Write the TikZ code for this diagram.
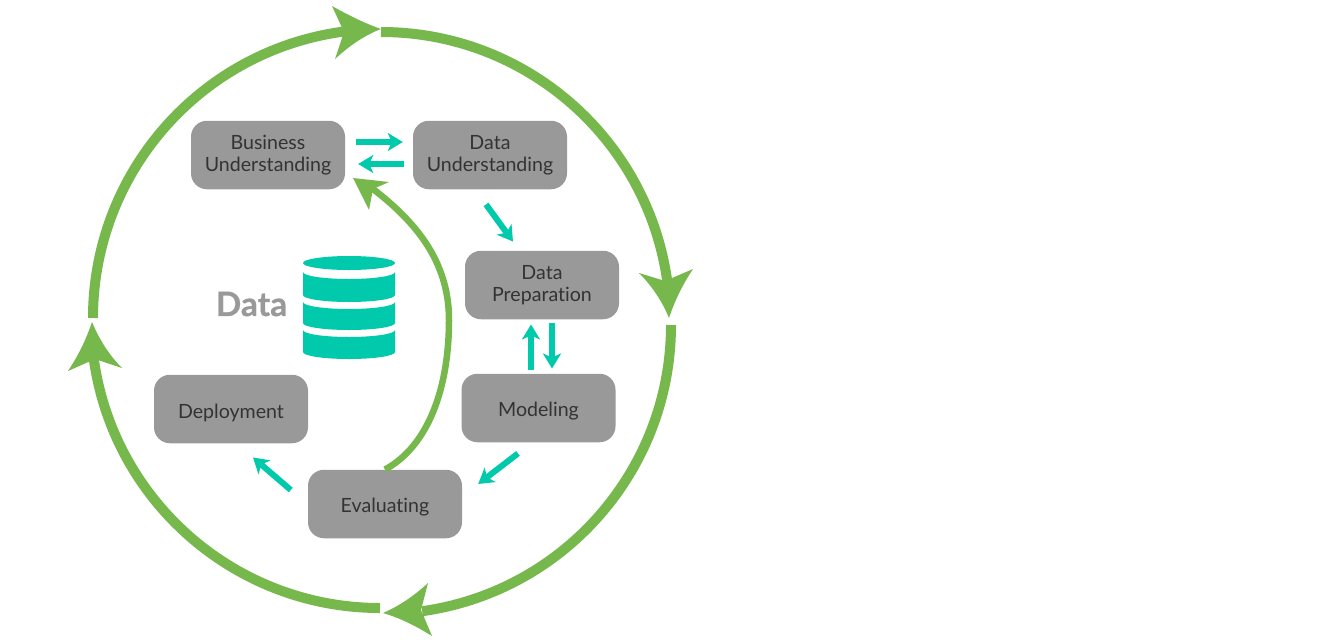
\documentclass[tikz,border=0pt]{standalone}
\usepackage{fontspec}
\setmainfont[Ligatures=NoCommon,Contextuals=NoAlternate]{Lato}
\newfontfamily\datafont[BoldFeatures={FakeBold=0.7}]{Lato}
\usetikzlibrary{arrows.meta,calc}
\definecolor{cgreen}{HTML}{76B84B}
\definecolor{cteal}{HTML}{00C9AC}
\definecolor{cbox}{HTML}{999999}
\definecolor{ctext}{HTML}{333333}
\tikzset{
  stage/.style={draw=none,fill=cbox,rounded corners=16pt,minimum width=154pt,minimum height=68.5pt,inner sep=0pt,
    align=center,text=ctext,font=\fontsize{19.6}{22}\selectfont},
  flow/.style={draw=cteal,line width=6pt,-{Stealth[length=15pt,width=18pt,inset=4pt]}},
  ring/.style={draw=cgreen,line width=10pt},
  ringhead/.style={fill=cgreen,draw=none},
  band/.style={fill=cteal,draw=none}
}
\begin{document}
\begin{tikzpicture}[x=1pt,y=-1pt]
\useasboundingbox[fill=white] (0,0) rectangle (1322,643);
% stages
\node[stage] (biz) at (268,155) {Business\\Understanding};
\node[stage] (du) at (490,155) {Data\\Understanding};
\node[stage] (dp) at (542,285) {Data\\Preparation};
\node[stage] (mod) at (538.5,408) {\rule{0pt}{20pt}Modeling};
\node[stage] (ev) at (385,504) {\rule{0pt}{20pt}Evaluating};
\node[stage] (dep) at (231,409) {\rule{0pt}{22pt}Deployment};
% teal connectors
\draw[flow] ([shift={(11,-13)}]biz.east) -- ([shift={(-10,-13)}]du.west);
\draw[flow] ([shift={(-9,9)}]du.west) -- ([shift={(13,9)}]biz.east);
\draw[flow] ([shift={(-4,15)}]du.south) -- ([shift={(-29,-9)}]dp.north);
\draw[flow] ([shift={(-7.5,-4)}]mod.north) -- ([shift={(-11,5)}]dp.south);
\draw[flow] ([shift={(10,4)}]dp.south) -- ([shift={(13.5,-5)}]mod.north);
\draw[flow] ([shift={(-20.5,11)}]mod.south) -- ([shift={(16,-20)}]ev.east);
\draw[flow] ([shift={(-17,-14)}]ev.west) -- ([shift={(22,14)}]dep.south);
% feedback curve
\coordinate (fbTip) at (353,178);
\coordinate (fbA) at (389,182);
\coordinate (fbB) at (369,210);
\coordinate (fbN) at (373,189);
\draw[draw=cgreen,line width=6.5pt] (ev.north) .. controls (430,445) and (449,385) .. (449,320) .. controls (449,265) and (420,225) .. (fbN);
\fill[ringhead] (fbTip) -- (fbA) -- (fbN) -- (fbB) -- cycle;
% big ring
\coordinate (s1) at (93,318);
\coordinate (s2) at (381,32);
\coordinate (s3) at (671,325);
\coordinate (s4) at (380,608);
\draw[ring] (s1) arc[start angle=180,end angle=263,radius=289];
\draw[ring] (s2) arc[start angle=270,end angle=352,radius=289];
\draw[ring] (s3) arc[start angle=0,end angle=82,radius=289];
\draw[ring] (s4) arc[start angle=90,end angle=172,radius=289];
% ring arrowheads
\fill[ringhead] (332,6) .. controls (348,15) and (364,23) .. (381,29) .. controls (365,35) and (349,46) .. (335,59) -- (344,32) -- cycle;
\fill[ringhead] (693,269) .. controls (683,284) and (675,300) .. (669,318) .. controls (662,301) and (652,286) .. (639,273) -- (665,281) -- cycle;
\fill[ringhead] (428,583) .. controls (414,596) and (399,606) .. (383,613) .. controls (400,618) and (416,626) .. (432,636) -- (421,610) -- cycle;
\fill[ringhead] (68,371) .. controls (78,356) and (86,340) .. (92,322) .. controls (99,339) and (109,355) .. (122,368) -- (95,359) -- cycle;
% database
\fill[band] (349,263) ellipse[x radius=46,y radius=7];
\fill[band] (303,272) -- (303,295) arc[start angle=180,end angle=0,x radius=46,y radius=7] -- (395,272) arc[start angle=0,end angle=180,x radius=46,y radius=7] -- cycle;
\fill[band] (303,302) -- (303,323) arc[start angle=180,end angle=0,x radius=46,y radius=7] -- (395,302) arc[start angle=0,end angle=180,x radius=46,y radius=7] -- cycle;
\fill[band] (303,330) -- (303,352) arc[start angle=180,end angle=0,x radius=46,y radius=7] -- (395,330) arc[start angle=0,end angle=180,x radius=46,y radius=7] -- cycle;
\node[text=cbox,font=\fontsize{33.5}{36}\datafont\selectfont\bfseries,inner sep=0pt] (dbl) at (251.5,304) {Data};
\end{tikzpicture}
\end{document}
